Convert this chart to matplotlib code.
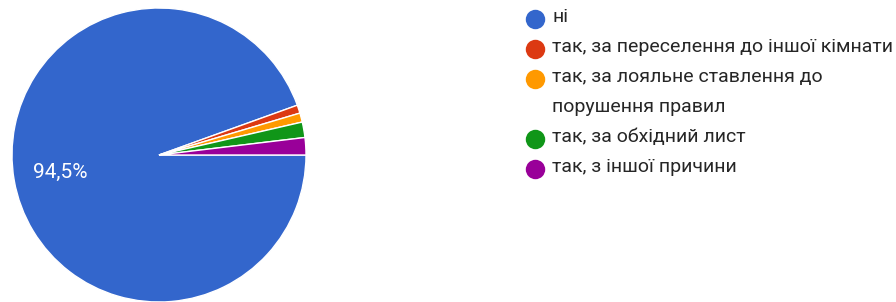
import matplotlib
matplotlib.use("Agg")
import matplotlib.pyplot as plt

# data
labels = [
    "ні",
    "так, за переселення до іншої кімнати",
    "так, за лояльне ставлення до\nпорушення правил",
    "так, за обхідний лист",
    "так, з іншої причини",
]
shares = [94.5, 0.9, 1.0, 1.7, 1.9]
pct_text = ["94,5%", "", "", "", ""]
colors = ["#3366cc", "#dc3912", "#ff9900", "#109618", "#990099"]

W, H = 896, 302
fig = plt.figure(figsize=(W / 100, H / 100), dpi=100)
fig.patch.set_facecolor("white")

# pie axes placed in pixel coords: centre (159,155), radius 147
cx, cy, r = 159, 155, 147
ax = fig.add_axes([(cx - r) / W, (H - cy - r) / H, 2 * r / W, 2 * r / H])
wedges, texts = ax.pie(
    shares, colors=colors, startangle=0, counterclock=False, radius=1,
    wedgeprops=dict(edgecolor="white", linewidth=1.0),
)
ax.set_xlim(-1, 1)
ax.set_ylim(-1, 1)
ax.set_aspect("equal")
ax.axis("off")
ax.text(-0.67, -0.115, pct_text[0], color="white", fontsize=15,
        fontfamily="Roboto", ha="center", va="center")

# legend drawn by hand in pixel coordinates
lg = fig.add_axes([0, 0, 1, 1])
lg.set_xlim(0, W)
lg.set_ylim(H, 0)
lg.axis("off")
y = 19
for lab, col in zip(labels, colors):
    lg.plot(535, y, "o", color=col, markersize=14, markeredgewidth=0)
    lg.text(552, y - 11, lab, fontsize=14, fontfamily="Roboto", color="#262626",
            va="top", ha="left", linespacing=1.85)
    y += 30 * (lab.count("\n") + 1)

fig.savefig("out.png", dpi=100, facecolor="white")
